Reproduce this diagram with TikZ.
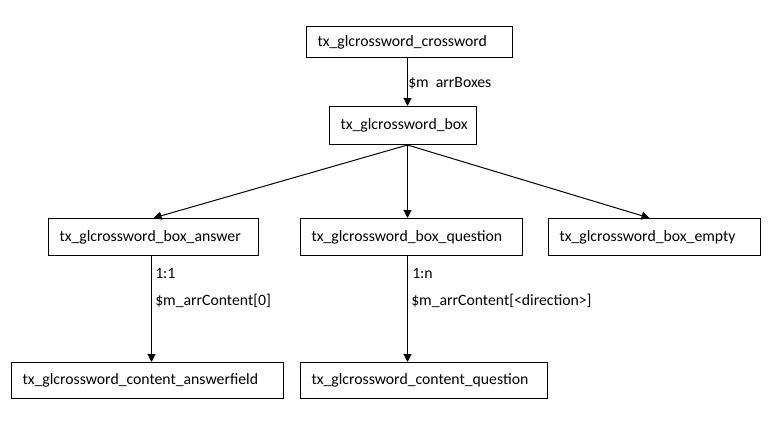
\documentclass[tikz,border=0pt]{standalone}
\usepackage{fontspec}
\setmainfont{Carlito}
\usetikzlibrary{arrows.meta}
\tikzset{cls/.style={draw, line width=.75pt, anchor=north west, inner xsep=8.25pt, inner ysep=0pt, align=left, minimum height=27.75pt, font=\fontsize{11.8}{14}\selectfont}}
\tikzset{link/.style={line width=.75pt, -{Triangle[length=6pt,width=6pt]}}}
\tikzset{lbl/.style={anchor=west, inner sep=0pt, font=\fontsize{11.8}{14}\selectfont}}

\begin{document}
\begin{tikzpicture}[x=.75pt,y=-.75pt]
  \useasboundingbox (0,0) rectangle (778,425);

  \node[cls, text width=138pt, minimum height=23.25pt] (crossword) at (306,26) {tx\_glcrossword\_crossword};
  \node[cls, text width=93.75pt, minimum height=28.5pt] (box) at (329,106) {tx\_glcrossword\_box};

  \node[cls, text width=141pt] (answer) at (48,218) {tx\_glcrossword\_box\_answer};
  \node[cls, text width=150pt] (question) at (300,218) {tx\_glcrossword\_box\_question};
  \node[cls, text width=142.5pt] (empty) at (548,218) {tx\_glcrossword\_box\_empty};

  \node[cls, text width=187.5pt, minimum height=27pt] (answerfield) at (11,362) {tx\_glcrossword\_content\_answerfield};
  \node[cls, text width=168.75pt, minimum height=27pt] (cquestion) at (300,362) {tx\_glcrossword\_content\_question};

  \draw[link] ([xshift=-1.5pt]crossword.south) -- ([xshift=3.375pt]box.north);
  \node[lbl] (boxes) at (408,83) {\$m\ \ arrBoxes};

  \draw[link] ([xshift=3.375pt]box.south) -- (answer.north);
  \draw[link] ([xshift=3.375pt]box.south) -- ([xshift=-3pt]question.north);
  \draw[link] ([xshift=3.375pt]box.south) -- ([xshift=-3.75pt]empty.north);

  \draw[link] ([xshift=-1.5pt]answer.south) -- ([xshift=3pt]answerfield.north);
  \node[lbl] (card1) at (155,273) {1:1};
  \node[lbl] (content1) at (155,301) {\$m\_arrContent[0]};

  \draw[link] ([xshift=-3pt]question.south) -- ([xshift=-12.375pt]cquestion.north);
  \node[lbl] (cardn) at (412,273) {1:n};
  \node[lbl] (contentn) at (411,301) {\$m\_arrContent[<direction>]};
\end{tikzpicture}
\end{document}
